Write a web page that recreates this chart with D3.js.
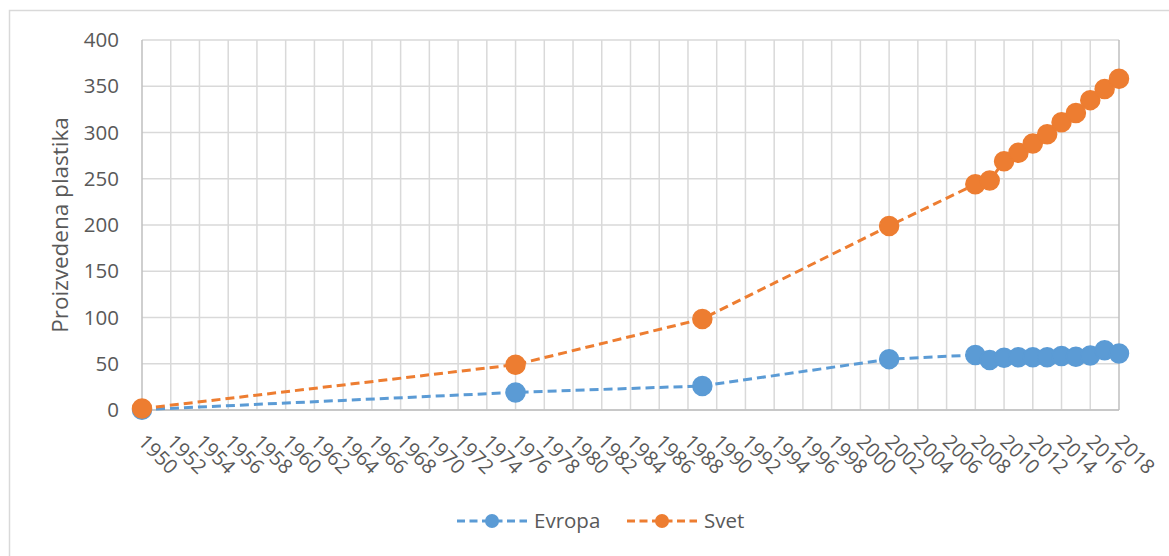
<!DOCTYPE html>
<html>
<head>
<meta charset="utf-8">
<script src="https://cdn.jsdelivr.net/npm/d3@7"></script>
<style>
    body { margin: 0; background: #fff; }
    svg { display: block; font-family: "Open Sans", sans-serif; }
</style>
</head>
<body>
<svg id="chart" width="1169" height="556"></svg>
<script>
// years that have a value (date axis, so the gaps are real gaps)
const years = [1950, 1976, 1989, 2002, 2008, 2009, 2010, 2011, 2012, 2013, 2014, 2015, 2016, 2017, 2018];
const evropa = [0.35, 19, 26, 55, 59.5, 54, 56.5, 57, 57, 57, 58.5, 57.5, 59, 64.5, 61];
const svet = [1.5, 49, 98.5, 199, 244, 248, 269, 278, 288, 298, 311, 321, 335, 347, 358];

const yTicks = [0, 50, 100, 150, 200, 250, 300, 350, 400];
const xTicks = d3.range(1950, 2019, 2);

const series = [
    { name: "Evropa", values: evropa, color: "#5B9BD5" },
    { name: "Svet", values: svet, color: "#ED7D31" },
];

const WIDTH = 1169;
const HEIGHT = 556;
const PLOT = { left: 142, right: 1119, top: 40, bottom: 410 };
const GRID = "#d9d9d9";
const AXIS = "#bfbfbf";
const TEXT = "#595959";

const svg = d3.select("#chart");

const x = d3.scaleLinear()
    .domain([1950, 2018])
    .range([PLOT.left, PLOT.right]);
const y = d3.scaleLinear()
    .domain([0, 400])
    .range([PLOT.bottom, PLOT.top]);

/**
 * Chart area border (only the left and top edges are inside the picture).
 */
function drawFrame() {
    svg.append("path")
        .attr("d", `M9.5,${HEIGHT} V10.5 H${WIDTH}`)
        .attr("fill", "none")
        .attr("stroke", GRID)
        .attr("stroke-width", 1.5);
}

/**
 * Gridlines, axis lines and the tick labels of both axes.
 */
function drawAxes() {
    let grid = svg.append("g");

    grid.selectAll("line.h")
        .data(yTicks)
        .join("line")
        .attr("x1", PLOT.left)
        .attr("x2", PLOT.right)
        .attr("y1", d => y(d))
        .attr("y2", d => y(d))
        .attr("stroke", GRID)
        .attr("stroke-width", 1.5);

    grid.selectAll("line.v")
        .data(xTicks)
        .join("line")
        .attr("x1", d => x(d))
        .attr("x2", d => x(d))
        .attr("y1", PLOT.top)
        .attr("y2", PLOT.bottom)
        .attr("stroke", (d, i) => i === 0 || d === 2018 ? AXIS : GRID)
        .attr("stroke-width", 1.5);

    svg.append("line")
        .attr("x1", PLOT.left)
        .attr("x2", PLOT.right)
        .attr("y1", PLOT.bottom)
        .attr("y2", PLOT.bottom)
        .attr("stroke", AXIS)
        .attr("stroke-width", 1.5);

    // y labels
    svg.append("g")
        .selectAll("text")
        .data(yTicks)
        .join("text")
        .attr("x", 119)
        .attr("y", d => y(d))
        .attr("dy", "0.35em")
        .attr("text-anchor", "end")
        .attr("font-size", 20.5)
        .attr("fill", TEXT)
        .text(d => d);

    // x labels, turned 45 degrees
    svg.append("g")
        .selectAll("text")
        .data(xTicks)
        .join("text")
        .attr("transform", d => `translate(${x(d) - 5}, 443) rotate(45)`)
        .attr("font-size", 20)
        .attr("fill", TEXT)
        .text(d => d);

    svg.append("text")
        .attr("transform", `translate(68, ${(PLOT.top + PLOT.bottom) / 2}) rotate(-90)`)
        .attr("text-anchor", "middle")
        .attr("font-size", 22.5)
        .attr("fill", TEXT)
        .text("Proizvedena plastika");
}

/**
 * The dashed lines and the round markers of every series.
 */
function drawSeries() {
    let line = d3.line()
        .x((d, i) => x(years[i]))
        .y(d => y(d));

    series.forEach(s => {
        let g = svg.append("g");

        g.append("path")
            .attr("d", line(s.values))
            .attr("fill", "none")
            .attr("stroke", s.color)
            .attr("stroke-width", 3)
            .attr("stroke-dasharray", "9,5");

        g.selectAll("circle")
            .data(s.values)
            .join("circle")
            .attr("cx", (d, i) => x(years[i]))
            .attr("cy", d => y(d))
            .attr("r", 9.5)
            .attr("fill", s.color)
            .attr("stroke", s.color)
            .attr("stroke-width", 1.5);
    });
}

/**
 * Legend under the x labels.
 */
function drawLegend() {
    let starts = [457, 627];

    series.forEach((s, i) => {
        let g = svg.append("g")
            .attr("transform", `translate(${starts[i]}, 521)`);

        g.append("line")
            .attr("x1", 0)
            .attr("x2", 70)
            .attr("stroke", s.color)
            .attr("stroke-width", 3)
            .attr("stroke-dasharray", "8,4.5");
        g.append("circle")
            .attr("cx", 35)
            .attr("r", 7)
            .attr("fill", s.color);
        g.append("text")
            .attr("x", 77)
            .attr("dy", "0.35em")
            .attr("font-size", 20.5)
            .attr("fill", TEXT)
            .text(s.name);
    });
}

drawFrame();
drawAxes();
drawSeries();
drawLegend();
</script>
</body>
</html>
